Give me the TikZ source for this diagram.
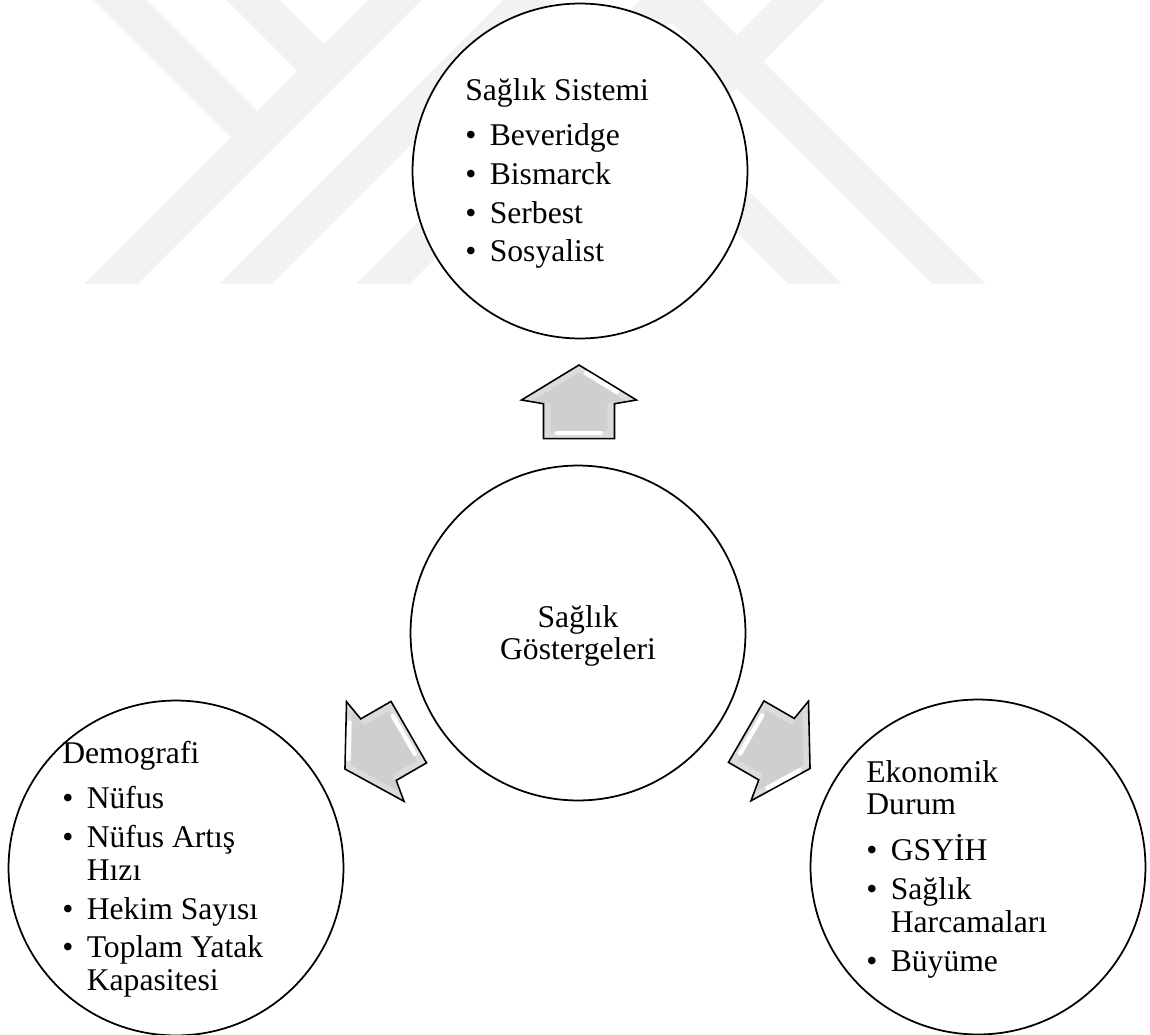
\documentclass[tikz,border=0pt]{standalone}
\usepackage{fontspec}
\setmainfont{Liberation Serif}
\usepackage{tikz}
\usetikzlibrary{calc}
\tikzset{
	daire/.style={circle, draw=black, line width=1pt, fill=white, minimum size=6.7cm, inner sep=0pt},
	yazi/.style={inner sep=0pt, font=\fontsize{18pt}{18.75pt}\selectfont},
	filigran/.style={draw=gray!10, line width=0.754cm},
	okdis/.style={fill=gray!28, draw=black, line width=0.9pt, line join=miter},
	okic/.style={fill=gray!38},
	okisik/.style={draw=white, line width=2.5pt, line cap=round}
}
\newcommand{\madde}[1]{\makebox[0.49cm][l]{\textbullet}#1}
\newcommand{\devam}[1]{\hspace*{0.49cm}#1}
\newcommand{\okyol}{(37,0) -- (2,57.5) -- (-1.7,35.5) -- (-36.7,35.5) -- (-36.7,-35.5) -- (-1.7,-35.5) -- (2,-57.5) -- cycle}

\begin{document}
\begin{tikzpicture}[x=0.02cm, y=-0.02cm]
		\useasboundingbox (0,0) rectangle (1150,1035);
		
		% Watermark
		\begin{scope}
			\clip (0,0) rectangle (1150,283);
			\draw [filigran] (100,-20) -- (257.5,137.5);
			\draw [filigran] (233.3,-20) -- (324.2,70.8);
			\draw [filigran] (415,-20) -- (92,303);
			\draw [filigran] (549.7,-20) -- (226.7,303);
			\draw [filigran] (686.7,-20) -- (363.7,303);
			\draw [filigran] (655,-20) -- (978,303);
			\draw [filigran] (818.3,-20) -- (664.7,133.7) -- (834,303);
		\end{scope}
		
		% Nodes
		\node (sistem) [daire] at (580,171) {};
		\node (gosterge) [daire] at (578,633) {};
		\node (demografi) [daire] at (176,868) {};
		\node (ekonomi) [daire] at (978,867) {};
		
		\node (sistemyazi) [yazi, anchor=base west] at ($(sistem)+(-115,-71)$) {\parbox[t]{6cm}{\raggedright
			Sağlık Sistemi\\[7.3pt]
			\madde{Beveridge}\\[3.3pt]
			\madde{Bismarck}\\[3.3pt]
			\madde{Serbest}\\[3.3pt]
			\madde{Sosyalist}}};
		\node (gostergeyazi) [yazi, anchor=base] at ($(gosterge)+(0,-6)$) {\parbox[t]{5cm}{\centering
			Sağlık\\Göstergeleri}};
		\node (demografiyazi) [yazi, anchor=base west] at ($(demografi)+(-114,-105)$) {\parbox[t]{6cm}{\raggedright
			Demografi\\[7.3pt]
			\madde{Nüfus}\\[3.3pt]
			\madde{Nüfus Artış}\\
			\devam{Hızı}\\[3.3pt]
			\madde{Hekim Sayısı}\\[3.3pt]
			\madde{Toplam Yatak}\\
			\devam{Kapasitesi}}};
		\node (ekonomiyazi) [yazi, anchor=base west] at ($(ekonomi)+(-112,-85)$) {\parbox[t]{6cm}{\raggedright
			Ekonomik\\
			Durum\\[7.3pt]
			\madde{GSYİH}\\[3.3pt]
			\madde{Sağlık}\\
			\devam{Harcamaları}\\[3.3pt]
			\madde{Büyüme}}};
		
		% Arrows
		\foreach \hedef/\aci in {sistem/90, demografi/210, ekonomi/-30} {
			\begin{scope}[shift={($(gosterge)!0.5!(\hedef)$)}, rotate=\aci]
				\filldraw [okdis] \okyol;
				\fill [okic, scale=0.8] \okyol;
				\draw [okisik] (29,7) -- (10,38);
				\draw [okisik] (-31,-22) -- (-31,22);
			\end{scope}
		}
		
	\end{tikzpicture}
\end{document}
